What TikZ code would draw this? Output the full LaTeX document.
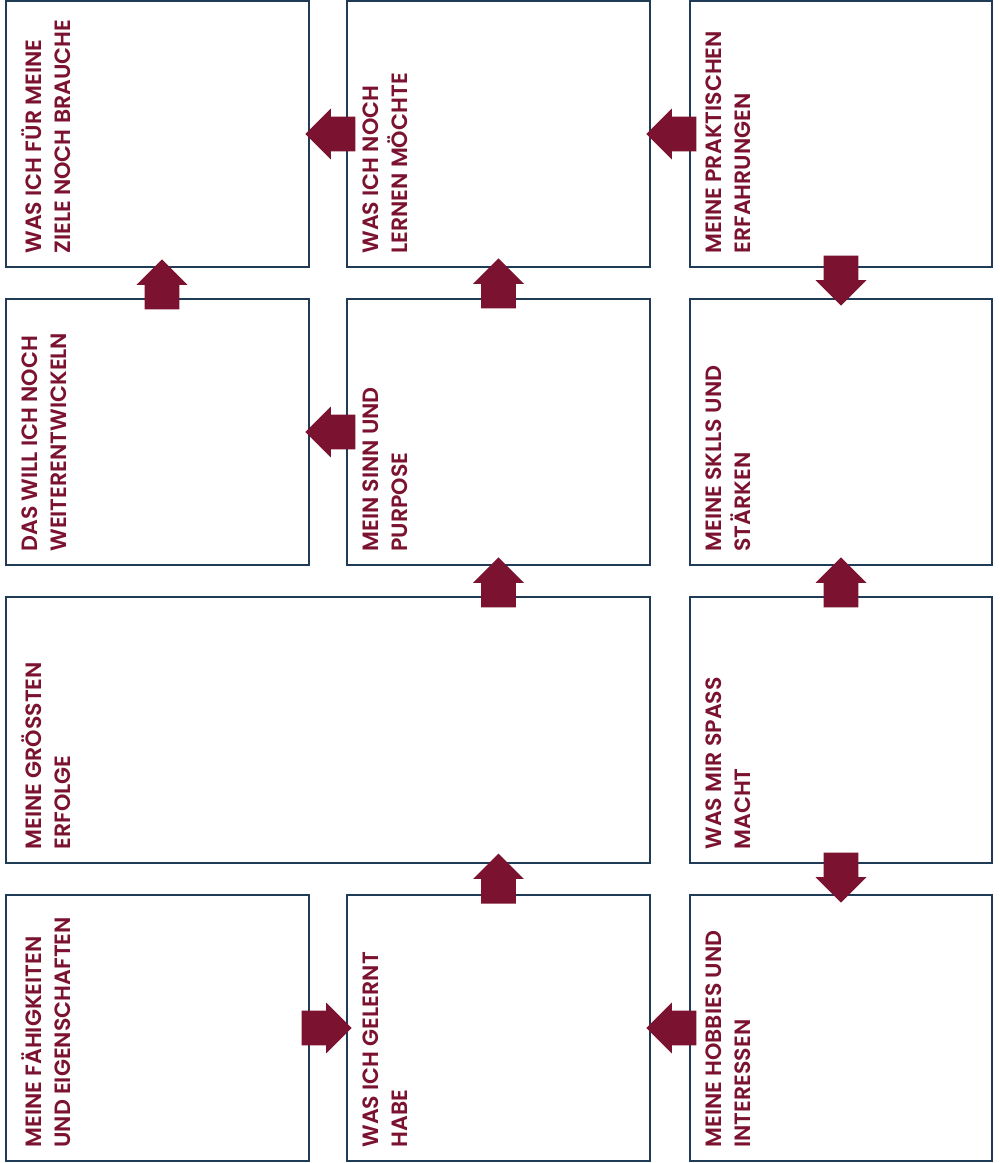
\documentclass[tikz,border=0pt]{standalone}
\usepackage{fontspec}
\setmainfont{Poppins}[BoldFont = Poppins SemiBold]
\usepackage{tikz}
\usetikzlibrary{shapes.arrows}

\definecolor{rahmen}{HTML}{1F3B55}
\definecolor{weinrot}{HTML}{7B1230}

\tikzset{
  feld/.style = {draw = rahmen, line width = 0.04cm, minimum width = 6.06cm, minimum height = 5.32cm, inner sep = 0},
  titel/.style = {text = weinrot, font = \fontsize{12.6}{16.6}\selectfont\bfseries, align = left, rotate = 90, anchor = north west, inner sep = 0, execute at begin node = {\vphantom{Ä}}},
  pfeil/.style = {single arrow, fill = weinrot, anchor = tip, minimum height = 1cm, inner xsep = 0, inner ysep = 0.34cm, single arrow head extend = 0.16cm, single arrow tip angle = 90}
}

\begin{document}
\begin{tikzpicture}[x = 0.02cm, y = -0.02cm]
\useasboundingbox (0,0) rectangle (1000,1163);

% Felder
\node[feld] (b11) at (157.5, 134) {};
\node[feld] (b12) at (498.5, 134) {};
\node[feld] (b13) at (841, 134) {};
\node[feld] (b21) at (157.5, 432) {};
\node[feld] (b22) at (498.5, 432) {};
\node[feld] (b23) at (841, 432) {};
\node[feld, minimum width = 12.88cm] (b31) at (328, 730) {};
\node[feld] (b33) at (841, 730) {};
\node[feld] (b41) at (157.5, 1028) {};
\node[feld] (b42) at (498.5, 1028) {};
\node[feld] (b43) at (841, 1028) {};

% Titel
\node[titel] (t11) at ([shift = {(0.33cm, 0.28cm)}]b11.south west) {WAS ICH FÜR MEINE\\ZIELE NOCH BRAUCHE};
\node[titel] (t12) at ([shift = {(0.33cm, 0.28cm)}]b12.south west) {WAS ICH NOCH\\LERNEN MÖCHTE};
\node[titel] (t13) at ([shift = {(0.33cm, 0.28cm)}]b13.south west) {MEINE PRAKTISCHEN\\ERFAHRUNGEN};
\node[titel] (t21) at ([shift = {(0.33cm, 0.28cm)}]b21.south west) {DAS WILL ICH NOCH\\WEITERENTWICKELN};
\node[titel] (t22) at ([shift = {(0.33cm, 0.28cm)}]b22.south west) {MEIN SINN UND\\PURPOSE};
\node[titel] (t23) at ([shift = {(0.33cm, 0.28cm)}]b23.south west) {MEINE SKLLS UND\\STÄRKEN};
\node[titel] (t31) at ([shift = {(0.33cm, 0.28cm)}]b31.south west) {MEINE GRÖSSTEN\\ERFOLGE};
\node[titel] (t33) at ([shift = {(0.33cm, 0.28cm)}]b33.south west) {WAS MIR SPASS\\MACHT};
\node[titel] (t41) at ([shift = {(0.33cm, 0.28cm)}]b41.south west) {MEINE FÄHIGKEITEN\\UND EIGENSCHAFTEN};
\node[titel] (t42) at ([shift = {(0.33cm, 0.28cm)}]b42.south west) {WAS ICH GELERNT\\HABE};
\node[titel] (t43) at ([shift = {(0.33cm, 0.28cm)}]b43.south west) {MEINE HOBBIES UND\\INTERESSEN};

% Pfeile (Spitze jeweils am Zielfeld)
\node[pfeil, rotate = 180] (p1) at ([xshift = -0.1cm]b11.east) {};
\node[pfeil, rotate = 180] (p2) at ([xshift = -0.1cm]b12.east) {};
\node[pfeil, rotate = 90] (p3) at ([xshift = 0.09cm, yshift = 0.18cm]b11.south) {};
\node[pfeil, rotate = 90] (p4) at ([yshift = 0.2cm]b12.south) {};
\node[pfeil, rotate = -90] (p5) at ([yshift = -0.16cm]b23.north) {};
\node[pfeil, rotate = 180] (p6) at ([xshift = -0.1cm]b21.east) {};
\node[pfeil, rotate = 90] (p7) at ([yshift = 0.18cm]b22.south) {};
\node[pfeil, rotate = 90] (p8) at ([yshift = 0.18cm]b23.south) {};
\node[pfeil, rotate = 90] (p9) at ([yshift = 0.82cm]b42.north) {};
\node[pfeil, rotate = -90] (p10) at ([yshift = -0.18cm]b43.north) {};
\node[pfeil] (p11) at ([xshift = 0.12cm]b42.west) {};
\node[pfeil, rotate = 180] (p12) at ([xshift = -0.1cm]b42.east) {};
\end{tikzpicture}
\end{document}
